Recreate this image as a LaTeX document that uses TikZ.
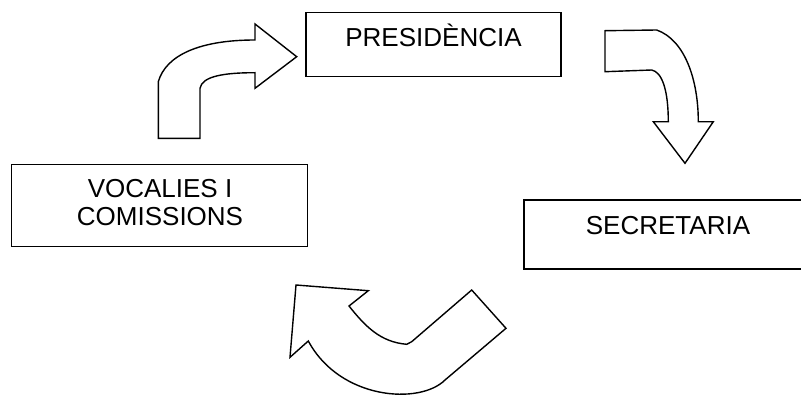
\documentclass[tikz,border=0pt]{standalone}
\usepackage{fontspec}
\setmainfont{Liberation Sans}
\tikzset{
  boxframe/.style={draw=black, line width=1.4pt, fill=white, inner sep=0pt},
  boxtext/.style={anchor=base, inner sep=0pt, font=\fontsize{26}{28}\selectfont},
  blockarrow/.style={draw=black, line width=1.4pt, fill=white, line join=miter}
}
\begin{document}
\begin{tikzpicture}[x=1pt,y=-1pt]
\useasboundingbox (0,0) rectangle (801,396);
\clip (0,0) rectangle (801,396);
\fill[white] (0,0) rectangle (801,396);
% boxes
\node[boxframe, minimum width=255pt, minimum height=64pt] (pres) at (433.5,44.7) {};
\node[boxframe, minimum width=295.6pt, minimum height=82.2pt] (voc) at (159.5,205.6) {};
\node[boxframe, minimum width=290pt, minimum height=69pt] (sec) at (669,234.5) {};
% texts
\node[boxtext] (prestext) at (433.5,47) {PRESIDÈNCIA};
\node[boxtext] (voctext1) at (160,197.5) {VOCALIES I};
\node[boxtext] (voctext2) at (160,225.5) {COMISSIONS};
\node[boxtext] (sectext) at (668,234.5) {SECRETARIA};
% arrow top-left (up then right)
\draw[blockarrow] (158.3,138.3) -- (158.3,81.7)
  .. controls (166,55) and (200,40) .. (255,40)
  -- (255,24) -- (296.7,56.7) -- (255,88.3) -- (255,72.7)
  .. controls (225,72.7) and (202,76) .. (200,88.3)
  -- (200,138.3) -- cycle;
% arrow top-right (right then down)
\draw[blockarrow] (605,30.7) -- (656.7,30)
  .. controls (685,40) and (698.3,80) .. (698.3,121.7)
  -- (713.3,121.7) -- (685,163.3) -- (653.3,121.7) -- (668.3,121.7)
  .. controls (668.3,90) and (662,72) .. (651.7,70)
  -- (605,71.7) -- cycle;
% arrow bottom (U-turn to the upper left)
\draw[blockarrow] (296,285) -- (368.3,290.7) -- (349,306)
  .. controls (365,326) and (380,342) .. (406.7,344.3)
  -- (411.7,341.7) -- (471.7,290) -- (506,328.3) -- (445,380)
  .. controls (420,405) and (340,400) .. (308.3,341)
  -- (290,357.3) -- cycle;
\end{tikzpicture}
\end{document}
